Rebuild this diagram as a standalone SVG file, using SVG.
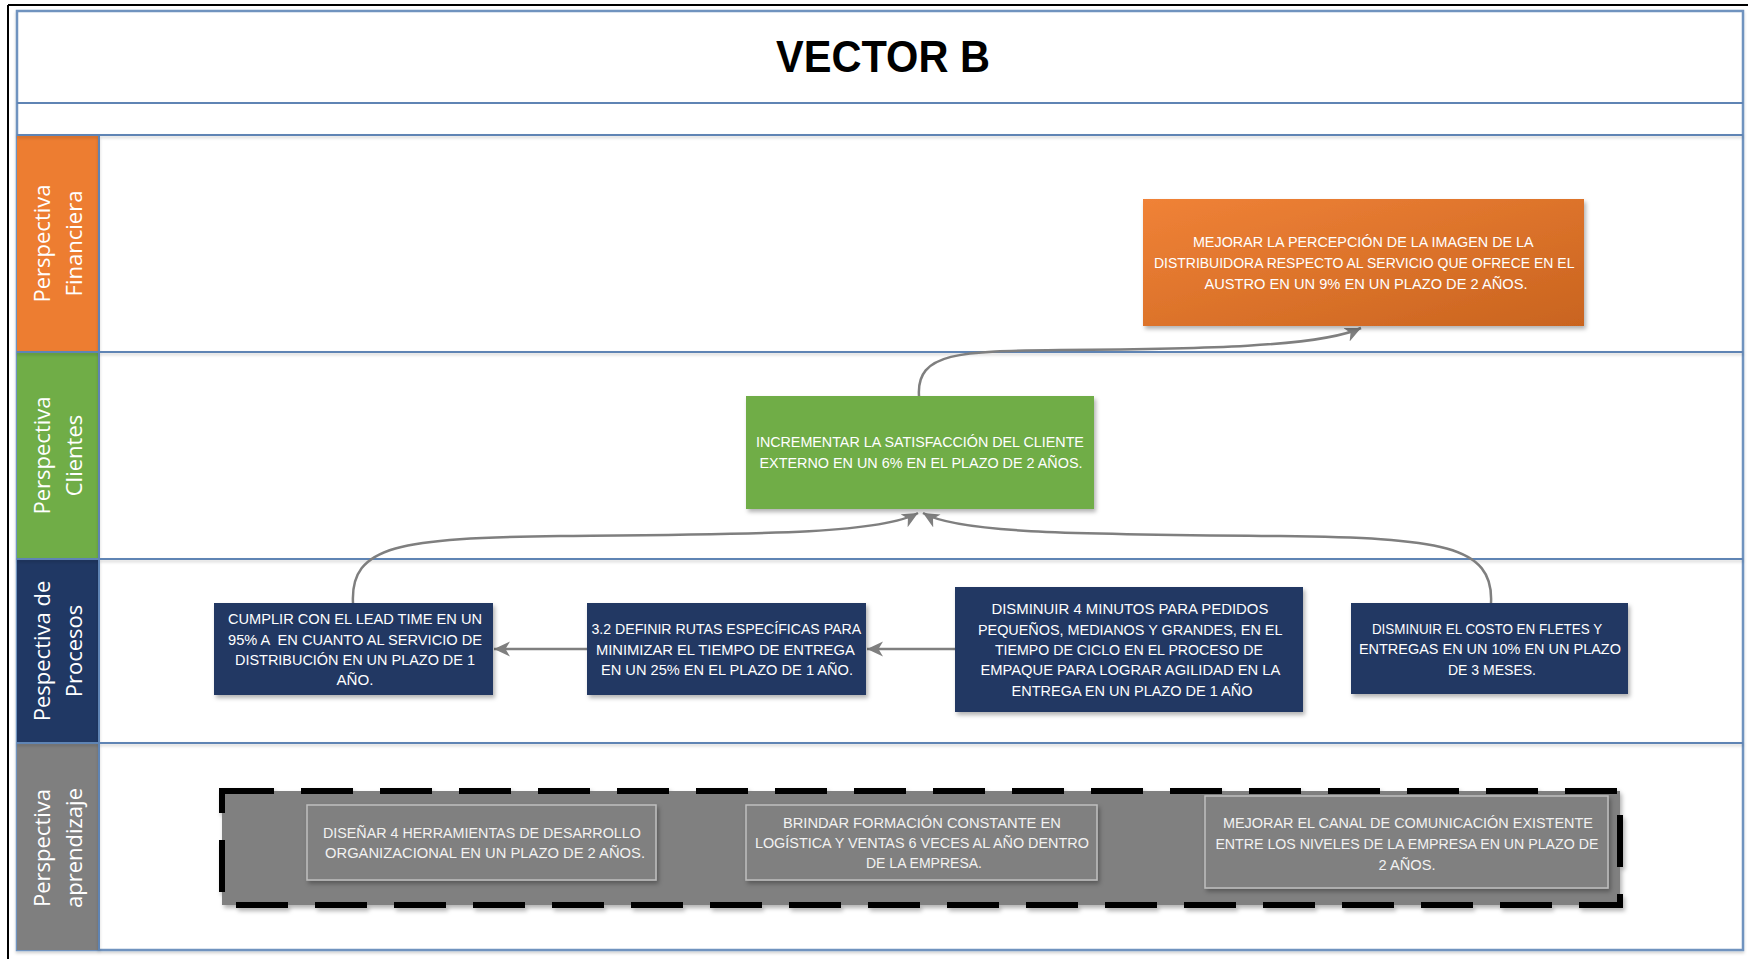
<svg xmlns="http://www.w3.org/2000/svg" width="1751" height="959" viewBox="0 0 1751 959">
  <style>
    .lane-label { font-family: "Open Sans", "Liberation Sans", sans-serif; font-size: 22px; fill: #ffffff; text-anchor: middle; }
    .box-text { font-family: "Liberation Sans", Arial, sans-serif; font-size: 15px; fill: #ffffff; text-anchor: middle; }
    .learn-text { font-family: "Liberation Sans", Arial, sans-serif; font-size: 15px; fill: #f2f2f2; text-anchor: middle; }
    .divider { stroke: #5f84b4; stroke-width: 2; }
    .connector { fill: none; stroke: #7f7f7f; stroke-width: 2.5; }
  </style>
  <defs>
    <filter id="shadow" x="-10%" y="-20%" width="130%" height="150%">
      <feDropShadow dx="2" dy="3" stdDeviation="2" flood-color="#000000" flood-opacity="0.3"/>
    </filter>
    <filter id="lineShadow" x="-5%" y="-200%" width="110%" height="500%">
      <feDropShadow dx="0" dy="2" stdDeviation="1.5" flood-color="#000000" flood-opacity="0.18"/>
    </filter>
    <linearGradient id="orangeFill" x1="0" y1="0" x2="1" y2="1">
      <stop offset="0" stop-color="#f08237"/>
      <stop offset="1" stop-color="#c9641f"/>
    </linearGradient>
    <marker id="arrow" markerUnits="userSpaceOnUse" markerWidth="18" markerHeight="16" refX="16" refY="7.5" orient="auto">
      <path d="M0,0 L16,7.5 L0,15 L4.5,7.5 Z" fill="#7f7f7f"/>
    </marker>
  </defs>

  <rect x="0" y="0" width="1751" height="959" fill="#ffffff"/>

  <!-- outer frame -->
  <g id="frame">
    <line x1="8" y1="5" x2="1748" y2="5" stroke="#000000" stroke-width="2"/>
    <line x1="8" y1="5" x2="8" y2="959" stroke="#000000" stroke-width="2"/>
    <rect x="17" y="11" width="1726" height="939" fill="#ffffff" stroke="#6f93bf" stroke-width="2.5" filter="url(#lineShadow)"/>
  </g>

  <!-- title -->
  <g id="title">
    <line class="divider" x1="17" y1="103" x2="1743" y2="103"/>
    <text x="883" y="72" font-family="Liberation Sans, Arial, sans-serif" font-weight="bold" font-size="44" text-anchor="middle" fill="#000000" textLength="214" lengthAdjust="spacingAndGlyphs">VECTOR B</text>
  </g>

  <!-- swimlanes -->
  <g id="lane-financiera">
    <rect x="17" y="135" width="82" height="217" fill="#ed7d31"/>
    <text class="lane-label" transform="translate(58,243.5) rotate(-90)"><tspan x="0" y="-8">Perspectiva</tspan><tspan x="0" y="24">Financiera</tspan></text>
  </g>
  <g id="lane-clientes">
    <rect x="17" y="352" width="82" height="207" fill="#70ad47"/>
    <text class="lane-label" transform="translate(58,455.5) rotate(-90)"><tspan x="0" y="-8">Perspectiva</tspan><tspan x="0" y="24">Clientes</tspan></text>
  </g>
  <g id="lane-procesos">
    <rect x="17" y="559" width="82" height="184" fill="#203864"/>
    <text class="lane-label" transform="translate(58,651) rotate(-90)"><tspan x="0" y="-8">Pespectiva de</tspan><tspan x="0" y="24">Procesos</tspan></text>
  </g>
  <g id="lane-aprendizaje">
    <rect x="17" y="743" width="82" height="207" fill="#7f7f7f"/>
    <text class="lane-label" transform="translate(58,848) rotate(-90)"><tspan x="0" y="-8">Perspectiva</tspan><tspan x="0" y="24">aprendizaje</tspan></text>
  </g>
  <g id="lane-dividers" filter="url(#lineShadow)">
    <line class="divider" x1="17" y1="135" x2="1743" y2="135"/>
    <line class="divider" x1="17" y1="352" x2="1743" y2="352"/>
    <line class="divider" x1="17" y1="559" x2="1743" y2="559"/>
    <line class="divider" x1="17" y1="743" x2="1743" y2="743"/>
    <line class="divider" x1="99" y1="135" x2="99" y2="950"/>
  </g>

  <!-- connectors -->
  <g id="connectors">
    <path class="connector" d="M919,396 C916,352 960,351 1060,350 C1200,349 1320,347 1361,328" marker-end="url(#arrow)"/>
    <path class="connector" d="M353,603 C350,545 400,538 560,536 C760,534 880,534 918,513" marker-end="url(#arrow)"/>
    <path class="connector" d="M1491,603 C1494,545 1440,538 1280,536 C1080,534 960,534 923,513" marker-end="url(#arrow)"/>
    <path class="connector" d="M955,649 L867,649" marker-end="url(#arrow)"/>
    <path class="connector" d="M587,649 L494,649" marker-end="url(#arrow)"/>
  </g>

  <!-- financial objective -->
  <g id="node-imagen">
    <rect x="1143" y="199" width="441" height="127" fill="url(#orangeFill)" filter="url(#shadow)"/>
    <text class="box-text">
      <tspan x="1365" y="247" textLength="340" lengthAdjust="spacingAndGlyphs">MEJORAR LA PERCEPCIÓN DE LA IMAGEN DE LA</tspan>
      <tspan x="1366" y="268" textLength="420" lengthAdjust="spacingAndGlyphs">DISTRIBUIDORA RESPECTO AL SERVICIO QUE OFRECE EN EL</tspan>
      <tspan x="1366" y="289" textLength="323" lengthAdjust="spacingAndGlyphs">AUSTRO EN UN 9% EN UN PLAZO DE 2 AÑOS.</tspan>
    </text>
  </g>

  <!-- customer objective -->
  <g id="node-satisfaccion">
    <rect x="746" y="396" width="348" height="113" fill="#70ad47" filter="url(#shadow)"/>
    <text class="box-text">
      <tspan x="922" y="447" textLength="328" lengthAdjust="spacingAndGlyphs">INCREMENTAR LA SATISFACCIÓN DEL CLIENTE</tspan>
      <tspan x="921" y="468" textLength="323" lengthAdjust="spacingAndGlyphs">EXTERNO EN UN 6% EN EL PLAZO DE 2 AÑOS.</tspan>
    </text>
  </g>

  <!-- process objectives -->
  <g id="node-leadtime">
    <rect x="214" y="603" width="279" height="92" fill="#203864" filter="url(#shadow)"/>
    <text class="box-text" xml:space="preserve"><tspan x="355" y="624" textLength="254" lengthAdjust="spacingAndGlyphs">CUMPLIR CON EL LEAD TIME EN UN</tspan><tspan x="355" y="645" textLength="254" lengthAdjust="spacingAndGlyphs">95% A  EN CUANTO AL SERVICIO DE</tspan><tspan x="355" y="665" textLength="240" lengthAdjust="spacingAndGlyphs">DISTRIBUCIÓN EN UN PLAZO DE 1</tspan><tspan x="355" y="685" textLength="37" lengthAdjust="spacingAndGlyphs">AÑO.</tspan></text>
  </g>
  <g id="node-rutas">
    <rect x="587" y="603" width="279" height="92" fill="#203864" filter="url(#shadow)"/>
    <text class="box-text">
      <tspan x="728" y="634" textLength="269" lengthAdjust="spacingAndGlyphs">3.2 DEFINIR RUTAS ESPECÍFICAS PARA</tspan>
      <tspan x="727" y="655" textLength="258" lengthAdjust="spacingAndGlyphs">MINIMIZAR EL TIEMPO DE ENTREGA</tspan>
      <tspan x="727" y="675" textLength="252" lengthAdjust="spacingAndGlyphs">EN UN 25% EN EL PLAZO DE 1 AÑO.</tspan>
    </text>
  </g>
  <g id="node-empaque">
    <rect x="955" y="587" width="348" height="125" fill="#203864" filter="url(#shadow)"/>
    <text class="box-text">
      <tspan x="1132" y="614" textLength="277" lengthAdjust="spacingAndGlyphs">DISMINUIR 4 MINUTOS PARA PEDIDOS</tspan>
      <tspan x="1132" y="635" textLength="304" lengthAdjust="spacingAndGlyphs">PEQUEÑOS, MEDIANOS Y GRANDES, EN EL</tspan>
      <tspan x="1131" y="655" textLength="268" lengthAdjust="spacingAndGlyphs">TIEMPO DE CICLO EN EL PROCESO DE</tspan>
      <tspan x="1132" y="675" textLength="299" lengthAdjust="spacingAndGlyphs">EMPAQUE PARA LOGRAR AGILIDAD EN LA</tspan>
      <tspan x="1132" y="696" textLength="241" lengthAdjust="spacingAndGlyphs">ENTREGA EN UN PLAZO DE 1 AÑO</tspan>
    </text>
  </g>
  <g id="node-fletes">
    <rect x="1351" y="603" width="277" height="91" fill="#203864" filter="url(#shadow)"/>
    <text class="box-text">
      <tspan x="1489" y="634" textLength="230" lengthAdjust="spacingAndGlyphs">DISMINUIR EL COSTO EN FLETES Y</tspan>
      <tspan x="1492" y="654" textLength="262" lengthAdjust="spacingAndGlyphs">ENTREGAS EN UN 10% EN UN PLAZO</tspan>
      <tspan x="1492" y="675" textLength="88" lengthAdjust="spacingAndGlyphs">DE 3 MESES.</tspan>
    </text>
  </g>

  <!-- learning objectives -->
  <g id="group-aprendizaje">
    <rect x="222" y="791" width="1398" height="114" fill="#808080" stroke="#000000" stroke-width="6" stroke-dasharray="52 27" filter="url(#shadow)"/>
  </g>
  <g id="node-herramientas">
    <rect x="307" y="805" width="349" height="75" fill="#808080" stroke="#bfbfbf" stroke-width="1.5" filter="url(#shadow)"/>
    <text class="learn-text">
      <tspan x="484" y="838" textLength="318" lengthAdjust="spacingAndGlyphs">DISEÑAR 4 HERRAMIENTAS DE DESARROLLO</tspan>
      <tspan x="485" y="858" textLength="320" lengthAdjust="spacingAndGlyphs">ORGANIZACIONAL EN UN PLAZO DE 2 AÑOS.</tspan>
    </text>
  </g>
  <g id="node-formacion">
    <rect x="746" y="805" width="351" height="75" fill="#808080" stroke="#bfbfbf" stroke-width="1.5" filter="url(#shadow)"/>
    <text class="learn-text">
      <tspan x="924" y="828" textLength="278" lengthAdjust="spacingAndGlyphs">BRINDAR FORMACIÓN CONSTANTE EN</tspan>
      <tspan x="924" y="848" textLength="334" lengthAdjust="spacingAndGlyphs">LOGÍSTICA Y VENTAS 6 VECES AL AÑO DENTRO</tspan>
      <tspan x="924" y="868" textLength="116" lengthAdjust="spacingAndGlyphs">DE LA EMPRESA.</tspan>
    </text>
  </g>
  <g id="node-comunicacion">
    <rect x="1205" y="796" width="403" height="92" fill="#808080" stroke="#bfbfbf" stroke-width="1.5" filter="url(#shadow)"/>
    <text class="learn-text">
      <tspan x="1410" y="828" textLength="370" lengthAdjust="spacingAndGlyphs">MEJORAR EL CANAL DE COMUNICACIÓN EXISTENTE</tspan>
      <tspan x="1409" y="849" textLength="383" lengthAdjust="spacingAndGlyphs">ENTRE LOS NIVELES DE LA EMPRESA EN UN PLAZO DE</tspan>
      <tspan x="1407" y="870" textLength="57" lengthAdjust="spacingAndGlyphs">2 AÑOS.</tspan>
    </text>
  </g>
</svg>
